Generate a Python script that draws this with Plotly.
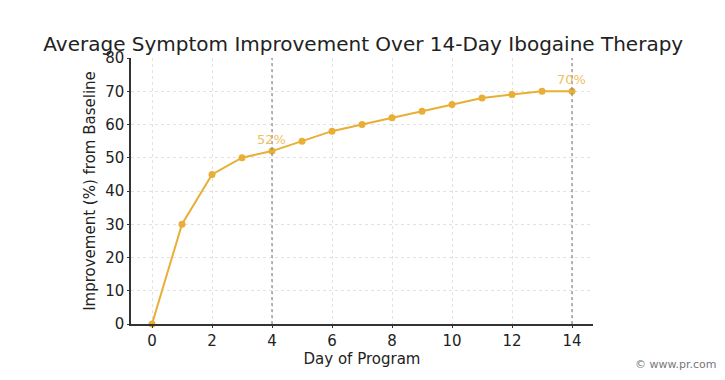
import plotly.graph_objects as go

days = list(range(15))
improvement = [0, 30, 45, 50, 52, 55, 58, 60, 62, 64, 66, 68, 69, 70, 70]
highlight_days = [4, 14]
highlight_labels = ["52%", "70%"]
x_ticks = [0, 2, 4, 6, 8, 10, 12, 14]
y_ticks = [0, 10, 20, 30, 40, 50, 60, 70, 80]

title = "Average Symptom Improvement Over 14-Day Ibogaine Therapy"
x_title = "Day of Program"
y_title = "Improvement (%) from Baseline"

line_color = "#E9AE35"
font_family = "DejaVu Sans"

fig = go.Figure()
fig.add_trace(go.Scatter(
    x=days, y=improvement, mode="lines+markers",
    line=dict(color=line_color, width=2),
    marker=dict(color=line_color, size=7),
    showlegend=False, cliponaxis=False,
))

shapes = []
for d in highlight_days:
    shapes.append(dict(type="line", xref="x", yref="paper", x0=d, x1=d, y0=0, y1=1,
                       line=dict(color="#8a8a8a", width=1.2, dash="dot"), layer="above"))

annotations = []
for d, lab in zip(highlight_days, highlight_labels):
    annotations.append(dict(x=d, y=improvement[d], xref="x", yref="y", text=lab,
                            showarrow=False, yshift=12, xshift=-1,
                            font=dict(family=font_family, size=13, color="rgba(233,174,53,0.8)")))
annotations.append(dict(x=1, y=0, xref="paper", yref="paper", xanchor="right", yanchor="bottom",
                        text="© www.pr.com", showarrow=False, xshift=125, yshift=-49,
                        font=dict(family=font_family, size=11, color="#777777")))

fig.update_layout(
    width=725, height=380,
    margin=dict(l=123, r=140, t=50, b=64),
    paper_bgcolor="white", plot_bgcolor="white",
    title=dict(text=title, x=0.49, xanchor="center", y=0.905, yanchor="middle",
               font=dict(family=font_family, size=20, color="#222222")),
    font=dict(family=font_family, color="#333333"),
    shapes=shapes, annotations=annotations,
    xaxis=dict(range=[-0.7, 14.7], tickvals=x_ticks, ticks="outside", ticklen=2,
               tickcolor="#333333", showline=True, linecolor="#333333", linewidth=1.5,
               showgrid=True, gridcolor="#e2e2e2", griddash="dot", gridwidth=1,
               zeroline=False, tickfont=dict(size=15, color="#222222"),
               title=dict(text=x_title, font=dict(size=15, color="#222222"), standoff=1)),
    yaxis=dict(range=[0, 80], tickvals=y_ticks, ticks="outside", ticklen=2,
               tickcolor="#333333", showline=True, linecolor="#333333", linewidth=1.5,
               showgrid=True, gridcolor="#e2e2e2", griddash="dot", gridwidth=1,
               zeroline=False, tickfont=dict(size=15, color="#222222"),
               title=dict(text=y_title, font=dict(size=15, color="#222222"), standoff=6)),
)

fig.write_html("out.html")
